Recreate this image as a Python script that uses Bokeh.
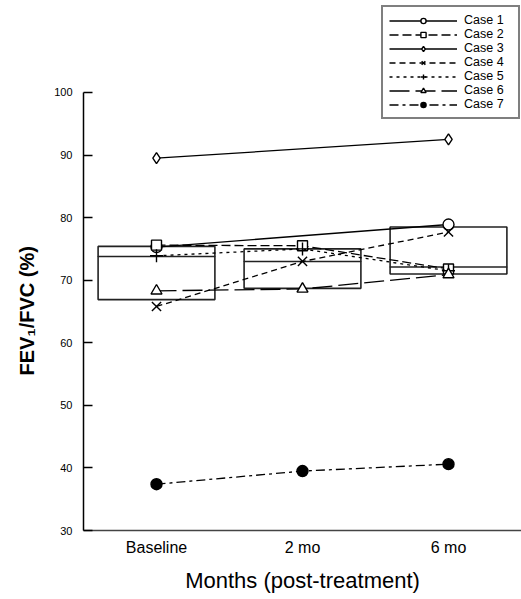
from bokeh.plotting import figure
from bokeh.models import Range1d, FixedTicker, Legend, LegendItem, ColumnDataSource, Title
from bokeh.embed import file_html
from bokeh.resources import INLINE

# ---------------- data ----------------
months = ["Baseline", "2 mo", "6 mo"]
box_q1 = [66.9, 68.7, 71.0]
box_median = [73.8, 73.0, 72.1]
box_q3 = [75.4, 75.0, 78.5]

case_names = ["Case 1", "Case 2", "Case 3", "Case 4", "Case 5", "Case 6", "Case 7"]
case1 = [75.3, None, 78.9]
case2 = [75.6, 75.5, 71.8]
case3 = [89.5, None, 92.5]
case4 = [65.8, 73.0, 77.7]
case5 = [73.9, 75.0, 71.5]
case6 = [68.3, 68.6, 70.9]
case7 = [37.4, 39.5, 40.6]
cases = [case1, case2, case3, case4, case5, case6, case7]

y_ticks = [30, 40, 50, 60, 70, 80, 90, 100]

markers = ["circle", "square", "diamond", "x", "cross", "triangle", "circle"]
marker_sizes = [11, 10, 11, 13, 13, 11, 11]
filled = [False, False, False, False, False, False, True]
dashes = ["solid", "9 4", "solid", "6 4", "3 4", "20 6", "9 4 3 4"]

FONT = "Liberation Sans"

# frame spans the whole height so the legend (above the y=100 line) is not clipped;
# the y axis line is bounded to 30..100
p = figure(width=521, height=599, output_backend="svg", toolbar_location=None,
           x_range=Range1d(-0.5, 2.5), y_range=Range1d(30, 114.7),
           min_border_left=83, min_border_right=0, min_border_top=0, min_border_bottom=69)
p.outline_line_color = None
p.xgrid.visible = False
p.ygrid.visible = False
p.background_fill_color = "white"
p.border_fill_color = "white"

xs = list(range(len(months)))

# boxes
box_src = ColumnDataSource(dict(x=xs, q1=box_q1, q3=box_q3, med=box_median))
p.vbar(x="x", width=0.8, top="q3", bottom="q1", source=box_src,
       fill_color=None, line_color="#222222", line_width=1.6)
p.rect(x="x", y="med", width=0.8, height=0.0001, source=box_src,
       fill_color=None, line_color="#222222", line_width=1.4)

items = []
for name, vals, mk, ms, fl, dash in zip(case_names, cases, markers, marker_sizes, filled, dashes):
    px = [x for x, v in zip(xs, vals) if v is not None]
    py = [v for v in vals if v is not None]
    src = ColumnDataSource(dict(x=px, y=py))
    ln = p.line("x", "y", source=src, line_color="black", line_width=1.3, line_dash=dash)
    sc = p.scatter("x", "y", source=src, marker=mk, size=ms, line_color="black", line_width=1.4,
                   fill_color="black" if fl else "white")
    items.append(LegendItem(label=name, renderers=[ln, sc]))

legend = Legend(items=items, location=(298, 411))
legend.border_line_color = "black"
legend.border_line_width = 2
legend.background_fill_color = "white"
legend.background_fill_alpha = 1
legend.padding = 6
legend.margin = 0
legend.spacing = 0
legend.glyph_width = 68
legend.glyph_height = 13
legend.label_height = 13
legend.label_width = 48
legend.label_standoff = 7
legend.label_text_font = FONT
legend.label_text_font_size = "12.5px"
legend.label_text_line_height = 1.0
legend.label_text_color = "black"
p.add_layout(legend)

# x axis
p.xaxis.ticker = FixedTicker(ticks=xs)
p.xaxis.major_label_overrides = {i: m for i, m in enumerate(months)}
p.xaxis.major_tick_line_color = None
p.xaxis.major_tick_in = 0
p.xaxis.major_tick_out = 0
p.xaxis.minor_tick_line_color = None
p.xaxis.major_label_standoff = 8
p.xaxis.major_label_text_font = FONT
p.xaxis.major_label_text_font_size = "16px"
p.xaxis.major_label_text_color = "black"
p.xaxis.axis_label = "Months (post-treatment)"
p.xaxis.axis_label_text_font = FONT
p.xaxis.axis_label_text_font_style = "normal"
p.xaxis.axis_label_text_font_size = "22px"
p.xaxis.axis_label_text_color = "black"
p.xaxis.axis_label_standoff = 9
p.xaxis.axis_line_color = "#444444"
p.xaxis.axis_line_width = 1.5

# y axis
p.yaxis.ticker = FixedTicker(ticks=y_ticks)
p.yaxis.bounds = (y_ticks[0], y_ticks[-1])
p.yaxis.major_tick_in = 9
p.yaxis.major_tick_out = 0
p.yaxis.minor_tick_line_color = None
p.yaxis.major_tick_line_width = 1.5
p.yaxis.major_tick_line_color = "black"
p.yaxis.axis_line_color = "black"
p.yaxis.axis_line_width = 1.5
p.yaxis.major_label_standoff = 11
p.yaxis.major_label_text_font = FONT
p.yaxis.major_label_text_font_size = "11px"
p.yaxis.major_label_text_color = "black"

# y axis title, positioned along the 30..100 part of the axis
ytitle = Title(text="FEV\u2081/FVC (%)", align="left", offset=155,
               text_font=FONT, text_font_style="bold", text_font_size="20px",
               text_color="black", standoff=27)
p.add_layout(ytitle, "left")

open("out.html", "w").write(file_html(p, INLINE))
